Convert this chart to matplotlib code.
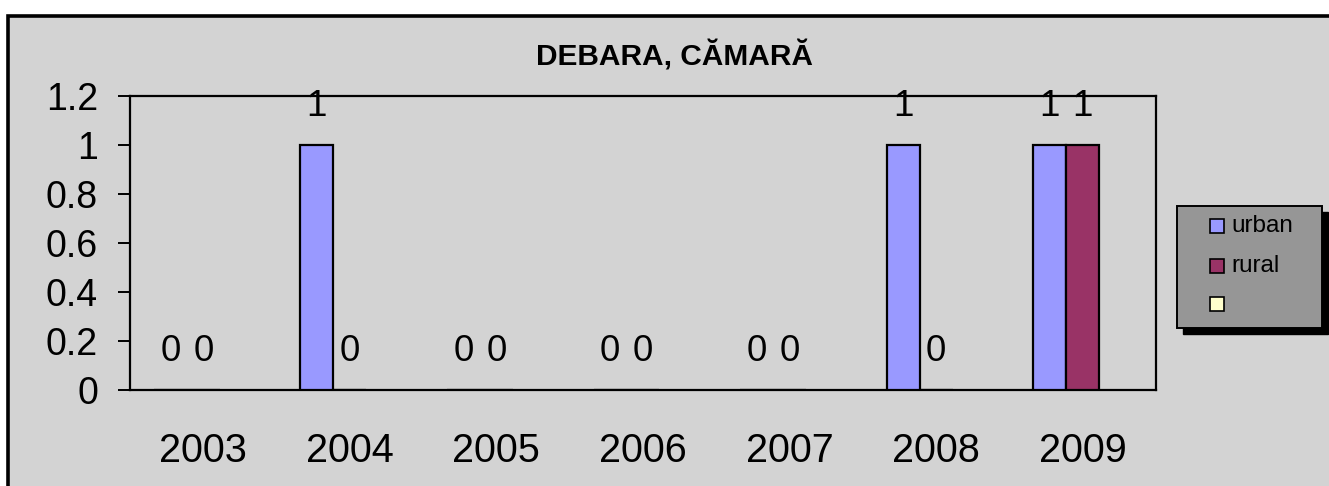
import numpy as np
import matplotlib
matplotlib.use("Agg")
import matplotlib.pyplot as plt
from matplotlib.patches import Rectangle

plt.rcParams['font.family'] = ['Liberation Sans', 'DejaVu Sans']

# date grafic
years = ['2003', '2004', '2005', '2006', '2007', '2008', '2009']
urban = [0, 1, 0, 0, 0, 1, 1]
rural = [0, 0, 0, 0, 0, 0, 1]
third = [np.nan] * 7          # a treia serie e goala
series_names = ['urban', 'rural', '']
series_colors = ['#9999FF', '#993366', '#FFFFCC']
title = 'DEBARA, CĂMARĂ'

W, H = 1329, 486
fig = plt.figure(figsize=(W / 100, H / 100), dpi=100)
fig.patch.set_facecolor('white')

# chenarul gri al graficului (sub axe)
fig.patches.append(Rectangle((8 / W, -0.1), 1.1, 1.1 - 16 / H,
                             transform=fig.transFigure, facecolor='#d3d3d3',
                             edgecolor='black', linewidth=2.6, zorder=-10))

ax = fig.add_axes([130 / W, 1 - 390 / H, (1156 - 130) / W, (390 - 96) / H])
ax.set_facecolor('none')

x = np.arange(len(years))
w = 0.225
data = [urban, rural, third]
for i, vals in enumerate(data):
    off = (i - 1) * w
    ax.bar(x + off, vals, w, color=series_colors[i], edgecolor='black',
           linewidth=1.6, zorder=3)
    if i < 2:
        for xi, v in zip(x, vals):
            ax.text(xi + off, v + 0.157, '%g' % v, ha='center', va='center',
                    fontsize=26.5)

ax.set_xlim(-0.5, len(years) - 0.5)
ax.set_ylim(0, 1.2)
ax.set_yticks(np.arange(0, 1.21, 0.2))
ax.set_yticklabels(['0', '0.2', '0.4', '0.6', '0.8', '1', '1.2'])
ax.set_xticks(x)
ax.set_xticklabels(years)
ax.tick_params(axis='y', direction='out', length=9, width=1.4, pad=14, labelsize=27)
ax.tick_params(axis='x', length=0, pad=30, labelsize=28.5)
for s in ax.spines.values():
    s.set_linewidth(1.6)
    s.set_color('black')

fig.text(675 / W, 1 - 56 / H, title, ha='center', va='center',
         fontsize=21.5, fontweight='bold')

# legenda cu umbra
lx0, lx1, ly0, ly1 = 1177, 1322, 206, 328
fig.patches.append(Rectangle(((lx0 + 6) / W, 1 - (ly1 + 6) / H), (lx1 - lx0) / W,
                             (ly1 - ly0) / H, transform=fig.transFigure,
                             facecolor='black', edgecolor='black', zorder=5))
fig.patches.append(Rectangle((lx0 / W, 1 - ly1 / H), (lx1 - lx0) / W,
                             (ly1 - ly0) / H, transform=fig.transFigure,
                             facecolor='#969696', edgecolor='black',
                             linewidth=1.4, zorder=6))
for name, col, yy in zip(series_names, series_colors, [226, 266, 304]):
    fig.patches.append(Rectangle((1210 / W, 1 - (yy + 7) / H), 14 / W, 14 / H,
                                 transform=fig.transFigure, facecolor=col,
                                 edgecolor='black', linewidth=1.2, zorder=7))
    fig.text(1231 / W, 1 - yy / H, name, ha='left', va='center',
             fontsize=17.5, zorder=8)

fig.savefig('out.png', dpi=100, facecolor=fig.get_facecolor())
